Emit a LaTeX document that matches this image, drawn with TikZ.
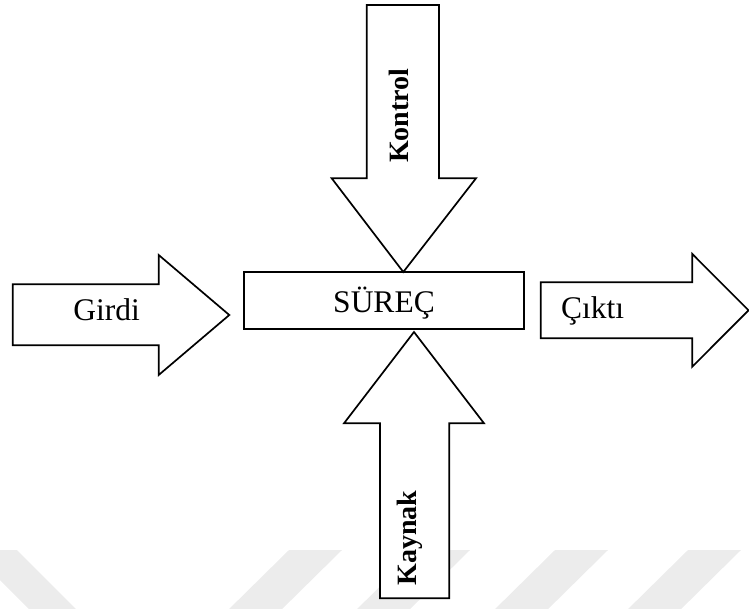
\documentclass[tikz,border=0pt]{standalone}
\usepackage{fontspec}
\setmainfont{Liberation Serif}
\definecolor{wmgray}{HTML}{ECECEC}
\begin{document}
\begin{tikzpicture}[x=1pt,y=-1pt,
    blockarrow/.style={draw=black, fill=white, line width=1.7pt, line join=miter},
    procbox/.style={draw=black, fill=white, line width=1.7pt, inner sep=0pt,
                    minimum width=280pt, minimum height=57pt},
    plainlabel/.style={anchor=base, inner sep=0pt, font=\fontsize{31.5}{36}\selectfont},
    boldlabel/.style={anchor=base, inner sep=0pt, rotate=90,
                      font=\fontsize{28}{32}\selectfont\bfseries},
    watermark/.style={fill=wmgray, draw=none}]
  \useasboundingbox (0,0) rectangle (749,608);

  % faint background stripes
  \fill[watermark] (-30,550) -- (17,550) -- (83,616) -- (36,616) -- cycle;
  \fill[watermark] (289,550) -- (342,550) -- (275,616) -- (222,616) -- cycle;
  \fill[watermark] (417,550) -- (470,550) -- (403,616) -- (350,616) -- cycle;
  \fill[watermark] (555,550) -- (608,550) -- (541,616) -- (488,616) -- cycle;
  \fill[watermark] (688,550) -- (741,550) -- (674,616) -- (621,616) -- cycle;

  % central process box
  \node[procbox] (surec) at (384,300.5) {};
  \node[plainlabel] (surectext) at (384,312.5) {SÜREÇ};

  % input arrow (left)
  \draw[blockarrow] (12.7,284.3) -- (158.7,284.3) -- (158.7,255) -- (229.3,315)
    -- (158.7,375) -- (158.7,345.3) -- (12.7,345.3) -- cycle;
  \node[plainlabel] (girdi) at (106.7,320) {Girdi};

  % output arrow (right)
  \draw[blockarrow] (540.7,282.3) -- (692.3,282.3) -- (692.3,254) -- (748.5,310.3)
    -- (692.3,366.7) -- (692.3,338.3) -- (540.7,338.3) -- cycle;
  \node[plainlabel] (cikti) at (592.5,318.3) {Çıktı};

  % control arrow (top)
  \draw[blockarrow] (366.7,5) -- (439,5) -- (439,178.3) -- (476,178.3) -- (403.3,272)
    -- (331.7,178.3) -- (366.7,178.3) -- cycle;
  \node[boldlabel] (kontrol) at (408.3,115.8) {Kontrol};

  % resource arrow (bottom)
  \draw[blockarrow] (380,598.3) -- (449.3,598.3) -- (449.3,423.3) -- (484,423.3)
    -- (414,332) -- (344,423.3) -- (380,423.3) -- cycle;
  \node[boldlabel] (kaynak) at (416,538) {Kaynak};
\end{tikzpicture}
\end{document}
